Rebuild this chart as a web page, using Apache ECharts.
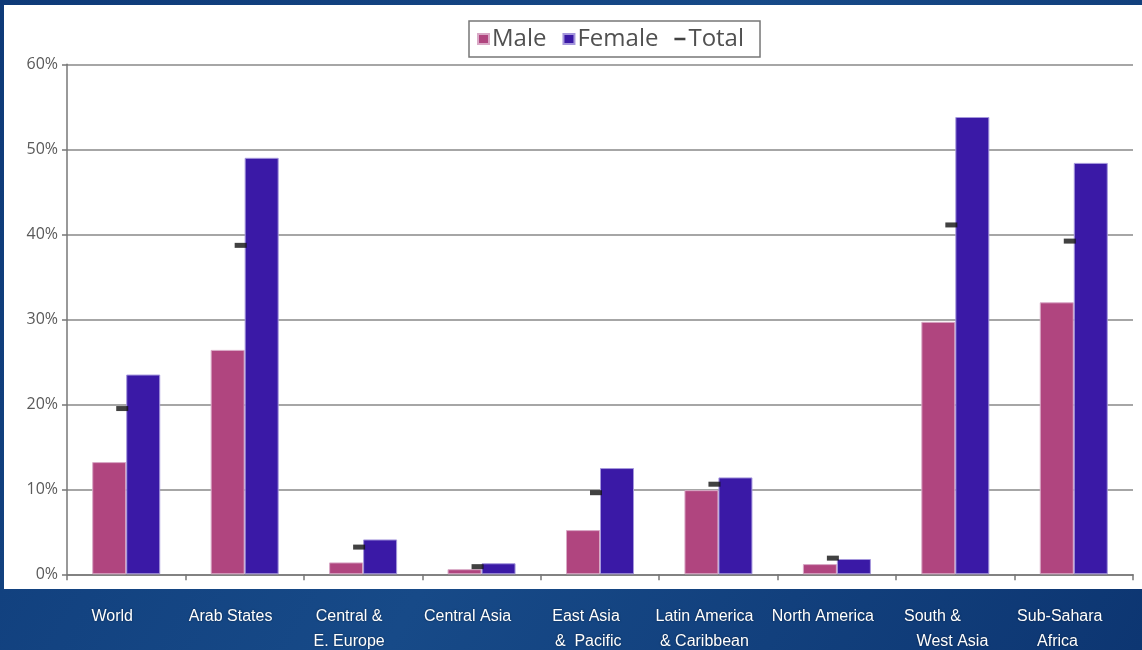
<!DOCTYPE html>
<html>
<head>
<meta charset="utf-8">
<script src="https://cdn.jsdelivr.net/npm/echarts@6/dist/echarts.min.js"></script>
<style>
html,body{margin:0;padding:0;background:#12427f;}
#chart{width:1142px;height:650px;}
</style>
</head>
<body>
<div id="chart"></div>
<script>
const categories = ['World', 'Arab States', 'Central &\nE. Europe', 'Central Asia', 'East Asia\n &  Pacific', 'Latin America\n& Caribbean', 'North America', 'South &    \n     West Asia', 'Sub-Sahara\n Africa  '];
const male   = [13.2, 26.4, 1.4, 0.6, 5.2, 9.9, 1.2, 29.7, 32.0];
const female = [23.5, 49.0, 4.1, 1.3, 12.5, 11.4, 1.8, 53.8, 48.4];
const total  = [19.5, 38.7, 3.2, 0.9, 9.6, 10.6, 1.9, 41.1, 39.2];
const yTicks = [0, 10, 20, 30, 40, 50, 60];

const chart = echarts.init(document.getElementById('chart'));
chart.setOption({
  backgroundColor: {
    type: 'linear', x: 0, y: 0, x2: 1, y2: 1,
    colorStops: [{offset: 0, color: '#0e3a78'}, {offset: 0.5, color: '#174a88'}, {offset: 1, color: '#0d3672'}]
  },
  animation: false,
  graphic: [{
    type: 'rect', z: -100, silent: true,
    shape: {x: 4, y: 5, width: 1138, height: 584},
    style: {fill: '#ffffff'}
  }],
  legend: {
    left: 469, top: 21,
    padding: [6, 16, 6, 8],
    borderColor: '#777', borderWidth: 1.5,
    itemWidth: 11, itemHeight: 10, itemGap: 16,
    textStyle: {fontFamily: 'Open Sans', fontSize: 24, color: '#505050', padding: [0, 0, 0, -2]},
    data: [
      {name: 'Male', icon: 'rect'},
      {name: 'Female', icon: 'rect'},
      {name: 'Total', icon: 'path://M0,0 L13,0 L13,3 L0,3 Z'}
    ]
  },
  grid: {left: 67, right: 9, top: 64.3, bottom: 75.7, outerBoundsMode: 'none', containLabel: false},
  xAxis: {
    type: 'category',
    data: categories,
    axisLine: {lineStyle: {color: '#777', width: 1.5}},
    axisTick: {show: true, length: 6, lineStyle: {color: '#777', width: 1.5}},
    axisLabel: {
      color: '#ffffff', fontFamily: 'Liberation Sans', fontSize: 16,
      lineHeight: 25, margin: 30, interval: 0,
      padding: [0, 28, 0, 0],
      textShadowColor: 'rgba(0,0,0,0.5)', textShadowBlur: 2
    }
  },
  yAxis: {
    type: 'value', min: yTicks[0], max: yTicks[yTicks.length - 1], interval: 10,
    axisLine: {show: true, lineStyle: {color: '#777', width: 1.5}},
    axisTick: {show: true, length: 5, lineStyle: {color: '#777', width: 1.5}},
    axisLabel: {formatter: '{value}%', color: '#5a5a5a', fontFamily: 'Open Sans', fontSize: 16, margin: 9},
    splitLine: {lineStyle: {color: '#888', width: 1.5}}
  },
  series: [
    {
      name: 'Male', type: 'bar', data: male, barWidth: 34, barGap: '0%',
      itemStyle: {color: '#b0457f', borderColor: '#d9a9c6', borderWidth: 1}
    },
    {
      name: 'Female', type: 'bar', data: female, barWidth: 34,
      itemStyle: {color: '#3a19a6', borderColor: '#a597dc', borderWidth: 1}
    },
    {
      name: 'Total', type: 'scatter', data: total, z: 5,
      symbol: 'rect', symbolSize: [12, 5], symbolOffset: [-4, 0],
      itemStyle: {color: '#111'}
    }
  ]
});
</script>
</body>
</html>
